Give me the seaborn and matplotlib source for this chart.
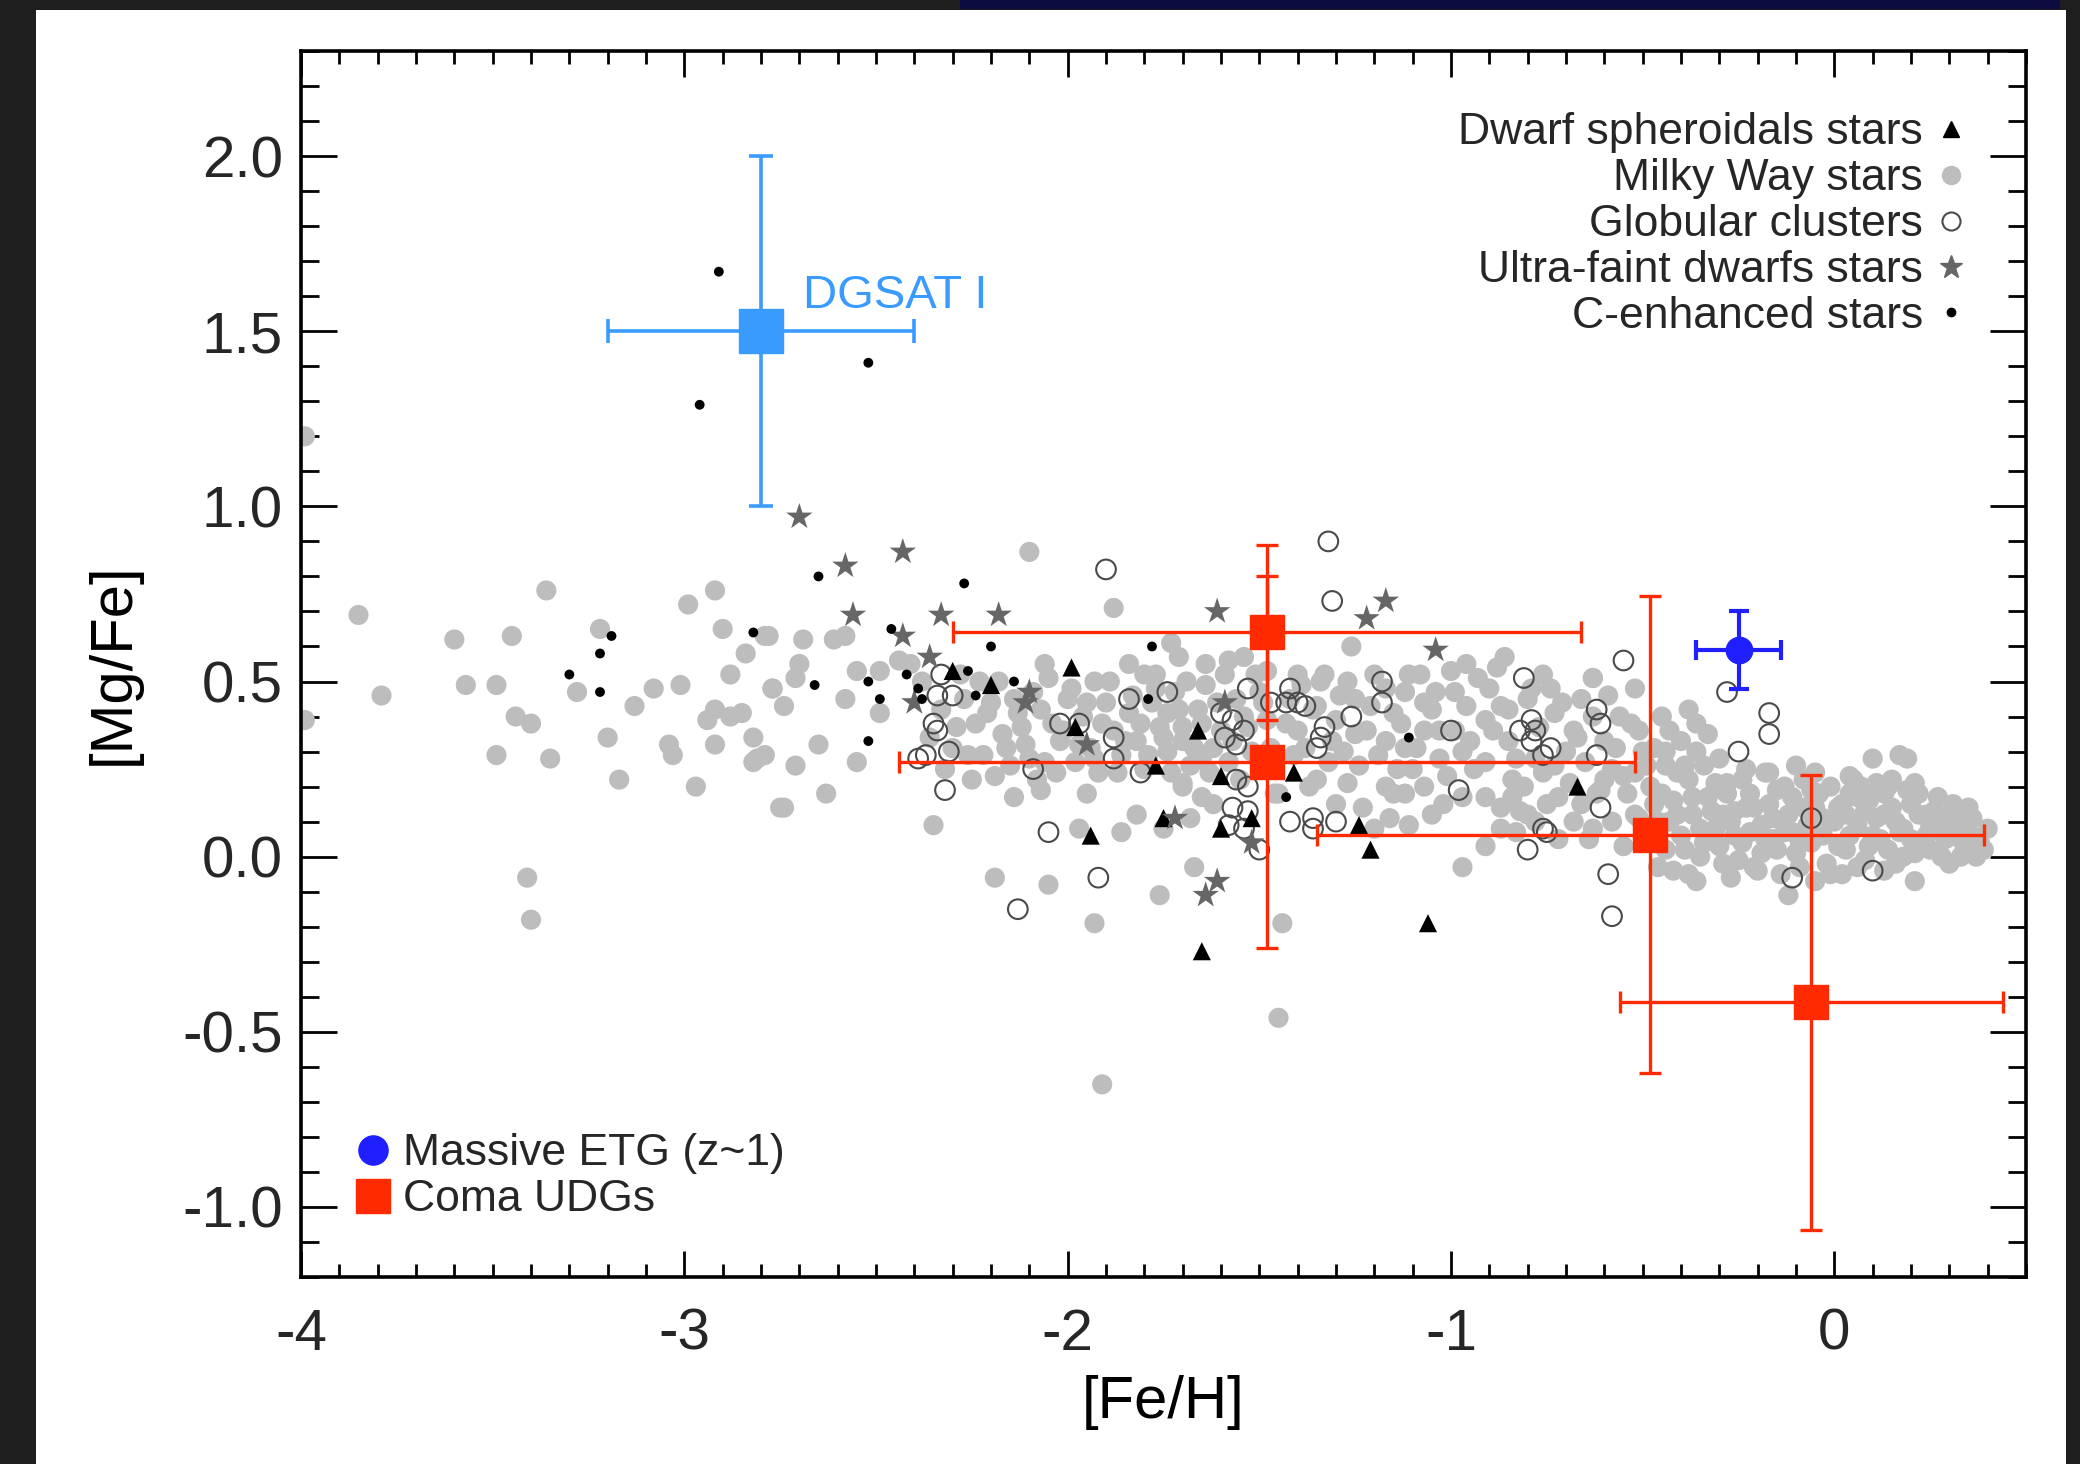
import numpy as np
import pandas as pd
import matplotlib
matplotlib.use("Agg")
import matplotlib.pyplot as plt
import seaborn as sns
from matplotlib.lines import Line2D
from matplotlib.patches import Rectangle
from matplotlib.ticker import MultipleLocator, FixedLocator, FixedFormatter

# ---------------- data ----------------
# Milky Way stars (grey filled), split by [Fe/H] range
mw_a_feh = [-3.99, -3.99, -3.85, -3.79, -3.60, -3.57, -3.49, -3.45, -3.44, -3.40, -3.49, -3.35, -3.36, -3.41, -3.40,
            -3.22, -3.28, -3.20, -3.17, -3.13, -3.08, -3.01, -2.99, -2.92, -2.90, -2.84, -2.88, -2.79, -2.77, -2.92,
            -2.94, -2.88, -2.85, -3.04, -3.03, -2.92, -2.82, -2.81, -2.82, -2.97, -2.75, -2.78, -2.69, -2.61, -2.58,
            -2.70, -2.55, -2.49, -2.77, -2.71, -2.74, -2.58, -2.49, -2.65, -2.79, -2.71, -2.55, -2.63, -2.74]
mw_a_mgfe = [1.20, 0.39, 0.69, 0.46, 0.62, 0.49, 0.49, 0.63, 0.40, 0.38, 0.29, 0.28, 0.76, -0.06, -0.18,
             0.65, 0.47, 0.34, 0.22, 0.43, 0.48, 0.49, 0.72, 0.76, 0.65, 0.58, 0.52, 0.63, 0.48, 0.42,
             0.39, 0.40, 0.41, 0.32, 0.29, 0.32, 0.34, 0.28, 0.27, 0.20, 0.14, 0.63, 0.62, 0.62, 0.63,
             0.55, 0.53, 0.53, 0.48, 0.51, 0.43, 0.45, 0.41, 0.32, 0.29, 0.26, 0.27, 0.18, 0.14]

mw_b_feh = [-2.44, -2.41, -2.35, -2.19, -2.05, -1.93, -1.76, -1.97, -1.86, -1.82, -2.14, -2.07, -2.06, -1.84, -2.10, -1.88,
            -2.38, -2.33, -2.36, -2.30, -2.27, -2.24, -2.22, -2.20, -2.17, -2.15, -2.13, -2.11, -2.09, -2.06, -2.04, -2.02,
            -2.00, -1.98, -1.96, -1.94, -1.92, -1.90, -1.88, -1.86, -1.84, -1.82, -1.80, -1.78, -1.76, -1.74, -1.72, -1.70,
            -1.68, -1.66, -1.64, -1.62, -1.60, -1.58, -1.56, -1.54, -1.52, -1.50, -1.48, -1.46,
            -2.25, -2.08, -1.95, -1.70, -1.62, -2.28, -2.18, -1.93, -1.80,
            -1.67, -1.64, -1.58, -1.54, -1.73, -1.71, -1.74, -1.70, -1.65, -1.70, -1.48, -1.77, -1.65, -1.68, -1.75, -1.45, -1.91]
mw_b_mgfe = [0.56, 0.55, 0.09, -0.06, -0.08, -0.19, -0.11, 0.08, 0.07, 0.12, 0.17, 0.19, 0.55, 0.55, 0.87, 0.71,
             0.50, 0.42, 0.34, 0.31, 0.45, 0.38, 0.29, 0.44, 0.35, 0.26, 0.41, 0.32, 0.47, 0.27, 0.38, 0.33,
             0.45, 0.27, 0.40, 0.31, 0.24, 0.44, 0.36, 0.29, 0.41, 0.33, 0.25, 0.44, 0.37, 0.30, 0.47, 0.33,
             0.26, 0.42, 0.49, 0.31, 0.36, 0.27, 0.45, 0.40, 0.30, 0.47, 0.39, 0.25,
             0.22, 0.22, 0.18, 0.20, 0.15, 0.52, 0.50, 0.50, 0.52,
             -0.03, 0.55, 0.56, 0.57, 0.61, 0.57, 0.41, 0.37, 0.28, 0.21, 0.53, 0.52, 0.17, 0.11, 0.08, -0.46, -0.65]
mw_b2_feh = [-2.32, -2.29, -2.26, -2.23, -2.21, -2.19, -2.16, -2.14, -2.12, -2.10, -2.07, -2.05, -2.03, -2.01,
             -1.99, -1.97, -1.95, -1.93, -1.91, -1.89, -1.87, -1.85, -1.83, -1.81, -1.79, -1.77, -1.75, -1.73,
             -1.71, -1.69, -1.67, -1.65, -1.63, -1.61, -1.59, -1.57, -1.55, -1.53, -1.51, -1.49, -1.47, -1.46]
mw_b2_mgfe = [0.25, 0.37, 0.29, 0.50, 0.41, 0.23, 0.31, 0.45, 0.37, 0.28, 0.42, 0.51, 0.24, 0.36,
              0.48, 0.32, 0.44, 0.28, 0.38, 0.50, 0.24, 0.33, 0.46, 0.38, 0.29, 0.48, 0.34, 0.24,
              0.42, 0.50, 0.31, 0.38, 0.24, 0.44, 0.52, 0.33, 0.22, 0.37, 0.52, 0.44, 0.31, 0.18]

mw_c_feh = [-1.44, -0.97, -1.26, -0.88, -1.34, -1.27, -1.12, -1.04, -1.00, -0.96, -1.22, -1.17, -1.12, -1.07, -1.17, -1.12,
            -1.07, -0.91, -0.87, -0.82, -0.78, -0.76, -0.96, -0.91, -0.87, -1.28, -1.24, -1.40, -1.38, -1.16, -1.11, -0.91,
            -1.03, -0.97, -1.30, -1.45, -0.83,
            -1.42, -1.36, -1.32, -1.25, -1.20, -1.15, -1.10, -1.05, -1.02, -0.99, -0.94, -0.90, -0.85, -0.84, -0.80, -0.73,
            -0.70, -0.68, -0.66, -0.63, -0.60, -0.58, -0.56, -0.54, -0.50, -1.20, -1.30, -1.35, -1.14, -0.72, -0.68, -0.64,
            -1.40, -1.08, -0.76, -0.86, -0.52, -0.63, -0.74, -0.80, -0.62, -0.58, -0.55, -0.52, -0.60, -0.84, -0.78, -0.72, -0.66, -0.63]
mw_c_mgfe = [-0.19, -0.03, 0.60, 0.54, 0.50, 0.50, 0.47, 0.47, 0.53, 0.55, 0.36, 0.33, 0.31, 0.36, 0.20, 0.18,
             0.20, 0.17, 0.14, 0.13, 0.28, 0.24, 0.43, 0.39, 0.43, 0.30, 0.26, 0.36, 0.31, 0.11, 0.09, 0.03,
             0.28, 0.30, 0.39, 0.18, 0.07,
             0.45, 0.42, 0.27, 0.45, 0.52, 0.41, 0.25, 0.42, 0.15, 0.36, 0.25, 0.48, 0.33, 0.22, 0.45, 0.41,
             0.30, 0.36, 0.45, 0.51, 0.33, 0.25, 0.40, 0.18, 0.30, 0.08, 0.15, 0.22, 0.25, 0.17, 0.10, 0.05,
             0.52, 0.52, 0.52, 0.57, 0.48, 0.51, 0.48, 0.12, 0.18, 0.10, 0.03, 0.12, 0.22, 0.17, 0.10, 0.05, 0.15, 0.08]
mw_c2_feh = [-1.43, -1.41, -1.39, -1.37, -1.35, -1.33, -1.31, -1.29, -1.27, -1.25, -1.23, -1.21, -1.19, -1.17, -1.15, -1.13,
             -1.11, -1.09, -1.07, -1.05, -1.03, -1.01, -0.99, -0.97, -0.95, -0.93, -0.91, -0.89, -0.87, -0.85, -0.83, -0.81,
             -0.79, -0.77, -0.75, -0.73, -0.71, -0.69, -0.67, -0.65, -0.63, -0.61, -0.59, -0.57, -0.55, -0.53, -0.51, -0.49]
mw_c2_mgfe = [0.38, 0.29, 0.49, 0.20, 0.43, 0.52, 0.33, 0.46, 0.21, 0.35, 0.14, 0.43, 0.29, 0.48, 0.18, 0.38,
              0.52, 0.31, 0.44, 0.12, 0.36, 0.23, 0.47, 0.17, 0.33, 0.51, 0.27, 0.36, 0.08, 0.42, 0.28, 0.20,
              0.48, 0.37, 0.15, 0.26, 0.44, 0.21, 0.34, 0.27, 0.40, 0.19, 0.46, 0.31, 0.23, 0.38, 0.11, 0.26]

mw_d_feh = [-0.38, -0.33, -0.43, -0.51, 0.10, 0.17, 0.04, -0.17, -0.39, -0.12, -0.36, 0.19, 0.14, 0.21, 0.24, 0.35,
            0.37, 0.30, 0.21, 0.05, -0.48, -0.46, -0.44, -0.42, -0.40, -0.38, -0.37, -0.35, -0.33, -0.31, -0.29, -0.28,
            -0.26, -0.24, -0.22, -0.20, -0.19, -0.17, -0.15, -0.13, -0.11, -0.09, -0.08, -0.06, -0.04, -0.02, 0.00, 0.02,
            0.03, 0.06, 0.08, 0.09, 0.12, 0.13, 0.16, 0.18, 0.20, 0.23, 0.25, 0.27, 0.29, 0.32, 0.34, -0.44,
            -0.30, -0.10, -0.05, -0.27, -0.05, 0.02, 0.13, -0.42, -0.47, -0.36, -0.23, -0.16, 0.07, 0.15, -0.45, -0.40, -0.36, -0.47]
mw_d_mgfe = [0.42, 0.35, 0.36, 0.36, 0.28, 0.29, 0.23, 0.24, 0.26, -0.11, -0.07, 0.28, 0.20, 0.21, 0.12, 0.07,
             0.00, -0.02, -0.07, 0.22, 0.20, 0.10, 0.02, 0.16, 0.06, 0.22, 0.12, 0.00, 0.17, 0.08, -0.02, 0.21,
             0.13, 0.04, 0.18, -0.04, 0.09, 0.15, 0.02, 0.20, 0.07, -0.03, 0.14, 0.04, 0.18, -0.02, 0.10, 0.15,
             0.02, 0.09, -0.01, 0.16, 0.05, 0.12, -0.02, 0.08, 0.15, 0.03, 0.09, 0.17, 0.05, 0.10, 0.02, 0.26,
             0.28, 0.26, 0.24, -0.06, -0.07, -0.05, -0.04, -0.04, 0.15, 0.30, 0.25, 0.05, 0.20, 0.22, 0.40, 0.33, 0.38, 0.31]
mw_d2_feh = [-0.47, -0.45, -0.43, -0.41, -0.39, -0.37, -0.35, -0.34, -0.32, -0.30, -0.28, -0.27, -0.25, -0.24, -0.22, -0.21,
             -0.19, -0.18, -0.16, -0.14, -0.13, -0.11, -0.10, -0.08, -0.07, -0.05, -0.03, -0.01, 0.01, 0.03, 0.04, 0.06,
             0.08, 0.10, 0.11, 0.14, 0.15, 0.17, 0.19, 0.21, 0.22, 0.24, 0.26, 0.28, 0.30, 0.31, 0.33, 0.36, 0.38, 0.40, 0.39]
mw_d2_mgfe = [0.05, 0.18, 0.10, 0.24, 0.02, 0.17, 0.08, 0.26, 0.13, 0.03, 0.18, 0.10, -0.01, 0.22, 0.07, 0.14,
              0.01, 0.24, 0.11, -0.05, 0.07, 0.17, 0.01, 0.22, 0.09, 0.14, 0.06, 0.20, 0.03, 0.12, 0.18, -0.03,
              0.13, 0.06, 0.21, 0.02, 0.14, 0.07, 0.19, 0.01, 0.12, 0.06, 0.13, 0.00, 0.08, 0.15, 0.05, 0.11, 0.04, 0.08, 0.02]
mw_d3_feh = [-0.46, -0.41, -0.38, -0.34, -0.31, -0.29, -0.26, -0.23, -0.21, -0.18, -0.15, -0.12, -0.09, -0.06, -0.03, -0.01,
             0.01, 0.04, 0.06, 0.09, 0.11, 0.13, 0.16, 0.18, 0.20, 0.22, 0.25, 0.27, 0.30, 0.33, 0.35, -0.52, -0.49, -0.44]
mw_d3_mgfe = [-0.03, 0.12, -0.05, 0.04, 0.21, 0.12, 0.06, 0.14, -0.03, 0.05, 0.19, 0.12, 0.04, 0.19, 0.11, -0.05,
              0.14, 0.06, 0.17, 0.03, 0.11, 0.18, 0.10, 0.00, 0.05, 0.18, 0.02, 0.08, 0.12, 0.00, 0.14, 0.24, 0.08, 0.30]

# Globular clusters (open circles)
gc_feh = [-1.90, -1.84, -1.74, -2.02, -1.97, -1.88, -1.88, -1.81, -2.09, -2.33, -2.30, -2.34, -2.35, -2.34, -2.31, -2.39,
          -2.37, -2.32, -2.05, -1.92, -2.13, -1.32, -1.31, -1.18, -1.18, -0.81, -1.53, -1.42, -1.40, -1.43, -1.38, -1.47,
          -1.60, -1.57, -1.54, -1.59, -1.56, -1.33, -1.34, -1.35, -1.26, -1.00, -0.79, -0.78, -0.79, -0.82, -0.98, -1.56,
          -1.53, -1.57, -1.53, -1.58, -1.54, -1.50, -1.42, -1.36, -1.30, -1.36, -0.80, -0.76, -0.55, -0.62, -0.61, -0.74,
          -0.76, -0.62, -0.28, -0.17, -0.17, -0.25, -0.61, -0.75, -0.59, -0.58, -0.06, -0.11, 0.10]
gc_mgfe = [0.82, 0.45, 0.47, 0.38, 0.38, 0.34, 0.28, 0.24, 0.25, 0.52, 0.46, 0.46, 0.38, 0.36, 0.30, 0.28,
           0.29, 0.19, 0.07, -0.06, -0.15, 0.90, 0.73, 0.50, 0.44, 0.51, 0.48, 0.48, 0.44, 0.44, 0.43, 0.44,
           0.41, 0.39, 0.36, 0.34, 0.32, 0.37, 0.34, 0.31, 0.40, 0.36, 0.39, 0.36, 0.33, 0.36, 0.19, 0.22,
           0.20, 0.14, 0.13, 0.09, 0.08, 0.02, 0.10, 0.11, 0.10, 0.08, 0.02, 0.08, 0.56, 0.42, 0.38, 0.31,
           0.29, 0.29, 0.47, 0.41, 0.35, 0.30, 0.14, 0.07, -0.05, -0.17, 0.11, -0.06, -0.04]

# Dwarf spheroidal stars (black triangles)
dsph_feh = [-2.30, -2.20, -1.99, -1.98, -1.77, -1.75, -1.94, -1.66, -1.60, -1.41, -1.60, -1.52, -1.24, -1.21, -1.06, -1.65, -0.67]
dsph_mgfe = [0.53, 0.49, 0.54, 0.37, 0.26, 0.11, 0.06, 0.36, 0.23, 0.24, 0.08, 0.11, 0.09, 0.02, -0.19, -0.27, 0.20]

# Ultra-faint dwarf stars (grey stars)
ufd_feh = [-2.70, -2.58, -2.43, -2.56, -2.33, -2.18, -2.43, -2.36, -2.40, -2.10, -2.11, -1.95, -1.61, -1.22, -1.17,
           -1.04, -1.59, -1.72, -1.52, -1.61, -1.64]
ufd_mgfe = [0.97, 0.83, 0.87, 0.69, 0.69, 0.69, 0.63, 0.57, 0.44, 0.47, 0.44, 0.32, 0.70, 0.68, 0.73,
            0.59, 0.44, 0.11, 0.04, -0.07, -0.11]

# C-enhanced stars (small black dots)
cemp_feh = [-2.91, -2.52, -2.96, -3.19, -3.22, -3.30, -3.22, -2.82, -2.65, -2.27, -2.46, -2.20, -1.78, -2.66, -2.52,
            -2.49, -2.42, -2.39, -2.38, -2.26, -2.24, -2.14, -2.52, -1.79, -1.11, -1.43]
cemp_mgfe = [1.67, 1.41, 1.29, 0.63, 0.58, 0.52, 0.47, 0.64, 0.80, 0.78, 0.65, 0.60, 0.60, 0.49, 0.50,
             0.45, 0.52, 0.48, 0.45, 0.53, 0.46, 0.50, 0.33, 0.45, 0.34, 0.17]

# Coma UDGs (red squares with error bars)
udg_feh = [-1.48, -1.48, -0.48, -0.06]
udg_mgfe = [0.64, 0.27, 0.063, -0.416]
udg_feh_err = [0.82, 0.96, 0.87, 0.50]
udg_mgfe_err = [0.25, 0.53, 0.68, 0.65]

# DGSAT I
dgsat_feh = [-2.80]
dgsat_mgfe = [1.50]
dgsat_feh_err = [0.40]
dgsat_mgfe_err = [0.50]
dgsat_label = "DGSAT I"

# Massive ETG (z~1)
etg_feh = [-0.25]
etg_mgfe = [0.59]
etg_feh_err = [0.11]
etg_mgfe_err = [0.11]

x_ticks = [-4, -3, -2, -1, 0]
x_tick_labels = ["-4", "-3", "-2", "-1", "0"]
y_ticks = [-1.0, -0.5, 0.0, 0.5, 1.0, 1.5, 2.0]
y_tick_labels = ["-1.0", "-0.5", "0.0", "0.5", "1.0", "1.5", "2.0"]

legend_top_labels = ["Dwarf spheroidals stars", "Milky Way stars", "Globular clusters",
                     "Ultra-faint dwarfs stars", "C-enhanced stars"]
legend_bottom_labels = ["Massive ETG (z~1)", "Coma UDGs"]

# ---------------- style ----------------
sns.set_theme(style="white")
plt.rcParams["font.family"] = ["Liberation Sans", "DejaVu Sans"]
plt.rcParams["axes.unicode_minus"] = False

W, H = 2080, 1464
fig = plt.figure(figsize=(W / 100, H / 100), dpi=100, facecolor="#1e1e1e")
fig.add_artist(Rectangle((36 / W, 0), (2066 - 36) / W, 1 - 10 / H, transform=fig.transFigure,
                         facecolor="white", edgecolor="none", zorder=-10))
fig.add_artist(Rectangle((960 / W, 1 - 9 / H), 1100 / W, 9 / H, transform=fig.transFigure,
                         facecolor="#0c0c40", edgecolor="none", zorder=-10))

ax = fig.add_axes([301 / W, 1 - 1277 / H, 1725 / W, 1226 / H])
ax.set_facecolor("white")

GREY = "#bdbdbd"
RED = "#ff2a00"
LBLUE = "#3a9bff"
BLUE = "#1f1fff"
GC_EDGE = "#4a4a4a"

mw = pd.DataFrame({"feh": mw_a_feh + mw_b_feh + mw_b2_feh + mw_c_feh + mw_c2_feh + mw_d_feh + mw_d2_feh + mw_d3_feh,
                   "mgfe": mw_a_mgfe + mw_b_mgfe + mw_b2_mgfe + mw_c_mgfe + mw_c2_mgfe + mw_d_mgfe + mw_d2_mgfe + mw_d3_mgfe})
sns.scatterplot(data=mw, x="feh", y="mgfe", ax=ax, color=GREY, s=210, marker="o",
                edgecolor="none", linewidth=0, zorder=2, legend=False)

gc = pd.DataFrame({"feh": gc_feh, "mgfe": gc_mgfe})
sns.scatterplot(data=gc, x="feh", y="mgfe", ax=ax, color=GC_EDGE, s=200, marker="o",
                linewidth=1.5, zorder=3, legend=False)
coll = ax.collections[-1]
coll.set_facecolor("none")
coll.set_edgecolor(GC_EDGE)
coll.set_linewidth(1.5)

dsph = pd.DataFrame({"feh": dsph_feh, "mgfe": dsph_mgfe})
sns.scatterplot(data=dsph, x="feh", y="mgfe", ax=ax, color="black", s=170, marker="^",
                edgecolor="none", linewidth=0, zorder=4, legend=False)

ufd = pd.DataFrame({"feh": ufd_feh, "mgfe": ufd_mgfe})
sns.scatterplot(data=ufd, x="feh", y="mgfe", ax=ax, color="#666666", s=400, marker="*",
                edgecolor="none", linewidth=0, zorder=4, legend=False)

cemp = pd.DataFrame({"feh": cemp_feh, "mgfe": cemp_mgfe})
sns.scatterplot(data=cemp, x="feh", y="mgfe", ax=ax, color="black", s=50, marker="o",
                edgecolor="none", linewidth=0, zorder=5, legend=False)

ax.errorbar(udg_feh, udg_mgfe, xerr=udg_feh_err, yerr=udg_mgfe_err, fmt="s", ms=25,
            color=RED, ecolor=RED, elinewidth=2.4, capsize=8, capthick=2.4, zorder=7)
ax.errorbar(dgsat_feh, dgsat_mgfe, xerr=dgsat_feh_err, yerr=dgsat_mgfe_err, fmt="s", ms=31,
            color=LBLUE, ecolor=LBLUE, elinewidth=2.6, capsize=8.5, capthick=2.6, zorder=7)
ax.errorbar(etg_feh, etg_mgfe, xerr=etg_feh_err, yerr=etg_mgfe_err, fmt="o", ms=19,
            color=BLUE, ecolor=BLUE, elinewidth=3.0, capsize=7.5, capthick=3.0, zorder=8)
ax.text(dgsat_feh[0] + 0.11, dgsat_mgfe[0] + 0.10, dgsat_label, color=LBLUE, fontsize=34,
        ha="left", va="center", zorder=8)

# axes
ax.set_xlim(-4, 0.5)
ax.set_ylim(-1.2, 2.3)
ax.xaxis.set_major_locator(FixedLocator(x_ticks))
ax.xaxis.set_major_formatter(FixedFormatter(x_tick_labels))
ax.yaxis.set_major_locator(FixedLocator(y_ticks))
ax.yaxis.set_major_formatter(FixedFormatter(y_tick_labels))
ax.xaxis.set_minor_locator(MultipleLocator(0.1))
ax.yaxis.set_minor_locator(MultipleLocator(0.1))
ax.tick_params(axis="both", which="both", direction="in", top=True, right=True,
               bottom=True, left=True, color="black", width=2.0)
ax.tick_params(axis="x", which="major", length=19, pad=22, labelsize=42)
ax.tick_params(axis="x", which="minor", length=9.5)
ax.tick_params(axis="y", which="major", length=26, pad=13, labelsize=42)
ax.tick_params(axis="y", which="minor", length=13)
for sp in ax.spines.values():
    sp.set_visible(True)
    sp.set_color("black")
    sp.set_linewidth(2.6)

ax.set_xlabel("[Fe/H]", fontsize=43, color="black")
ax.set_ylabel("[Mg/Fe]", fontsize=43, color="black")
ax.xaxis.set_label_coords(0.5, (1277 - 1402) / 1226)
ax.xaxis.label.set_va("center")
ax.yaxis.set_label_coords((113 - 301) / 1725, 0.5)
ax.yaxis.label.set_va("center")

# legends
top_handles = [
    Line2D([], [], ls="none", marker="^", color="black", ms=12),
    Line2D([], [], ls="none", marker="o", color=GREY, ms=13),
    Line2D([], [], ls="none", marker="o", mfc="none", mec=GC_EDGE, mew=1.5, ms=13),
    Line2D([], [], ls="none", marker="*", color="#666666", ms=17),
    Line2D([], [], ls="none", marker="o", color="black", ms=6),
]
leg1 = ax.legend(top_handles, legend_top_labels, loc="upper right",
                 bbox_to_anchor=((1968.8 - 301) / 1725, (1277 - 112.4) / 1226),
                 frameon=False, markerfirst=False, fontsize=32, handlelength=0.8,
                 handletextpad=0.23, labelspacing=0.11, borderpad=0, borderaxespad=0)
ax.add_artist(leg1)

bottom_handles = [
    Line2D([], [], ls="none", marker="o", color=BLUE, ms=21),
    Line2D([], [], ls="none", marker="s", color=RED, ms=24),
]
ax.legend(bottom_handles, legend_bottom_labels, loc="upper left",
          bbox_to_anchor=((355.2 - 301) / 1725, (1277 - 1133.5) / 1226),
          frameon=False, markerfirst=True, fontsize=32, handlelength=0.8,
          handletextpad=0.27, labelspacing=0.11, borderpad=0, borderaxespad=0)

fig.savefig("out.png", dpi=100, facecolor=fig.get_facecolor())
